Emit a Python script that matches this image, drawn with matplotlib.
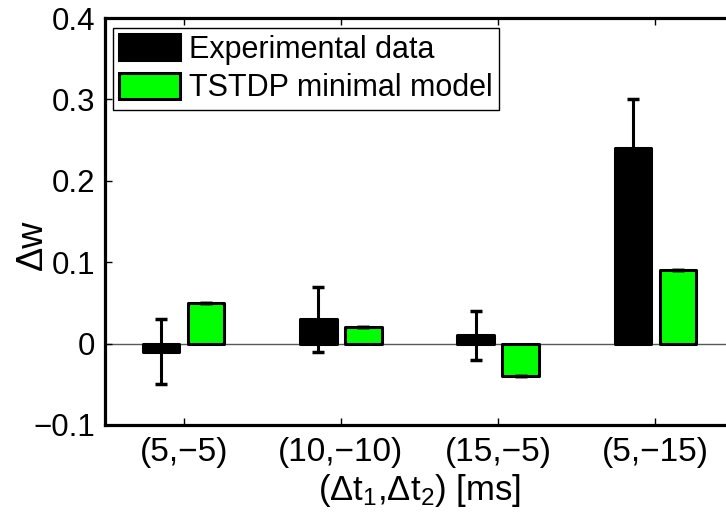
import matplotlib
matplotlib.use("Agg")
import matplotlib.pyplot as plt
import numpy as np

plt.rcParams['font.family'] = ['Liberation Sans', 'DejaVu Sans']
plt.rcParams['mathtext.fontset'] = 'custom'
plt.rcParams['mathtext.rm'] = 'Liberation Sans'
plt.rcParams['mathtext.it'] = 'Liberation Sans'

categories = ['(5,\u22125)', '(10,\u221210)', '(15,\u22125)', '(5,\u221215)']
exp_values = [-0.01, 0.03, 0.01, 0.24]
exp_errors = [0.04, 0.04, 0.03, 0.06]
model_values = [0.05, 0.02, -0.04, 0.09]
model_errors = [0.0, 0.0, 0.0, 0.0]
legend_labels = ['Experimental data', 'TSTDP minimal model']
yticks = [-0.1, 0, 0.1, 0.2, 0.3, 0.4]
ytick_labels = ['\u22120.1', '0', '0.1', '0.2', '0.3', '0.4']

fig = plt.figure(figsize=(7.26, 5.2), dpi=100)
ax = fig.add_axes([105/726, 95/520, (734-105)/726, (425-18)/520])

x = np.arange(1, len(categories) + 1)
off = 0.143
w = 0.232

ax.axhline(0, color='0.35', lw=1.0, zorder=1)
b1 = ax.bar(x - off, exp_values, w, color='black', edgecolor='black',
            linewidth=2.2, joinstyle='round', zorder=2, label=legend_labels[0])
b2 = ax.bar(x + off, model_values, w, color='#00ff00', edgecolor='black',
            linewidth=2.2, joinstyle='round', zorder=2, label=legend_labels[1])
ax.errorbar(x - off, exp_values, yerr=exp_errors, fmt='none', ecolor='black',
            elinewidth=2.2, capsize=4.5, capthick=2.5, zorder=3)
ax.errorbar(x + off, model_values, yerr=model_errors, fmt='none', ecolor='black',
            elinewidth=2.2, capsize=4.5, capthick=2.5, zorder=3)

ax.set_xlim(0.5, 4.5)
ax.set_ylim(-0.1, 0.4)
ax.set_xticks(x)
ax.set_xticklabels(categories, fontsize=24)
ax.set_yticks(yticks)
ax.set_yticklabels(ytick_labels, fontsize=22.5)
ax.tick_params(direction='in', length=5, width=1, top=True, right=False)
ax.tick_params(axis='x', pad=9)
ax.tick_params(axis='y', pad=7)
for s in ax.spines.values():
    s.set_linewidth(2.3)
ax.spines['right'].set_visible(False)

ax.set_ylabel('\u0394w', fontsize=26)
ax.yaxis.set_label_coords(-(105-50)/629, (425-245)/407)
ax.set_xlabel(r'($\mathregular{\Delta t_1}$,$\mathregular{\Delta t_2}$) [ms]',
              fontsize=25)
ax.xaxis.set_label_coords((420-105)/(734-105), -0.115)

leg = ax.legend(loc='upper left', bbox_to_anchor=(8/629, 1 - 10/407),
                fontsize=22, frameon=True, fancybox=False, framealpha=1,
                edgecolor='black', borderpad=0.2, handlelength=2.0,
                handleheight=0.95, handletextpad=0.28, labelspacing=0.26,
                borderaxespad=0)
leg.get_frame().set_linewidth(1.0)

fig.savefig('out.png', dpi=100)
